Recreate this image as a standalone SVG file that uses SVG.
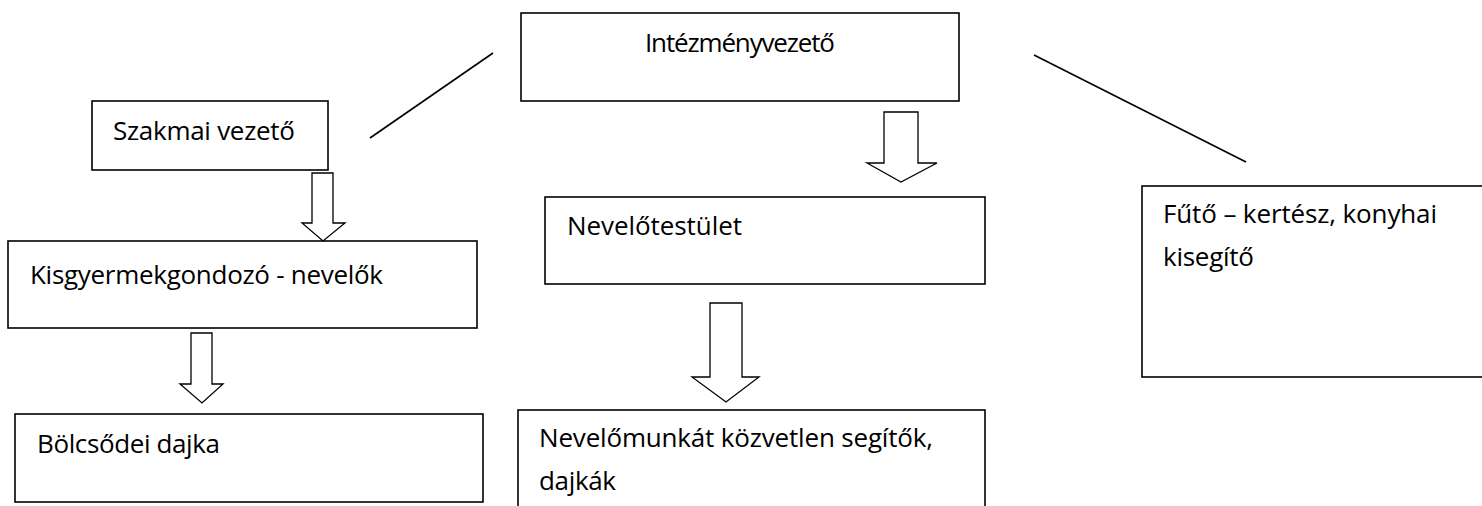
<svg xmlns="http://www.w3.org/2000/svg" width="1482" height="506" viewBox="0 0 1482 506">
<style>
.box{fill:#fff;stroke:#000;stroke-width:1.6}
.t{font-family:"Open Sans","Liberation Sans",sans-serif;font-size:26px;fill:#000}
.arr{fill:#fff;stroke:#000;stroke-width:1.3;stroke-linejoin:miter}
.ln{stroke:#000;stroke-width:1.6;fill:none}
</style>
<rect width="1482" height="506" fill="#fff"/>
<g id="connectors">
<line class="ln" x1="370" y1="138" x2="493" y2="53"/>
<line class="ln" x1="1034" y1="55" x2="1246" y2="162"/>
<polygon class="arr" points="884,112 918,112 918,163 937,163 901,182 867,163 884,163"/>
<polygon class="arr" points="312,173 333,173 333,223 345,223 323,241 302,223 312,223"/>
<polygon class="arr" points="191,333 212,333 212,384 223,384 202,403 180,384 191,384"/>
<polygon class="arr" points="710,303 742,303 742,377 759,377 726,402 692,377 710,377"/>
</g>
<g id="intezmenyvezeto">
<rect class="box" x="521" y="13" width="438" height="88"/>
<text class="t" x="645" y="52" textLength="190">Intézményvezető</text>
</g>
<g id="szakmai-vezeto">
<rect class="box" x="92" y="101" width="236" height="69"/>
<text class="t" x="113" y="140" textLength="182">Szakmai vezető</text>
</g>
<g id="kisgyermekgondozo">
<rect class="box" x="8" y="241" width="469" height="87"/>
<text class="t" x="30" y="284" textLength="353">Kisgyermekgondozó - nevelők</text>
</g>
<g id="nevelotestulet">
<rect class="box" x="545" y="197" width="440" height="87"/>
<text class="t" x="567" y="235" textLength="175">Nevelőtestület</text>
</g>
<g id="futo">
<rect class="box" x="1142" y="186" width="360" height="191"/>
<text class="t" x="1163" y="223" textLength="274">Fűtő – kertész, konyhai</text>
<text class="t" x="1163" y="266" textLength="91">kisegítő</text>
</g>
<g id="bolcsodei-dajka">
<rect class="box" x="15" y="414" width="468" height="88"/>
<text class="t" x="37" y="453" textLength="183">Bölcsődei dajka</text>
</g>
<g id="nevelomunkat">
<rect class="box" x="518" y="410" width="467" height="130"/>
<text class="t" x="539" y="447" textLength="394">Nevelőmunkát közvetlen segítők,</text>
<text class="t" x="539" y="490" textLength="77">dajkák</text>
</g>
</svg>
